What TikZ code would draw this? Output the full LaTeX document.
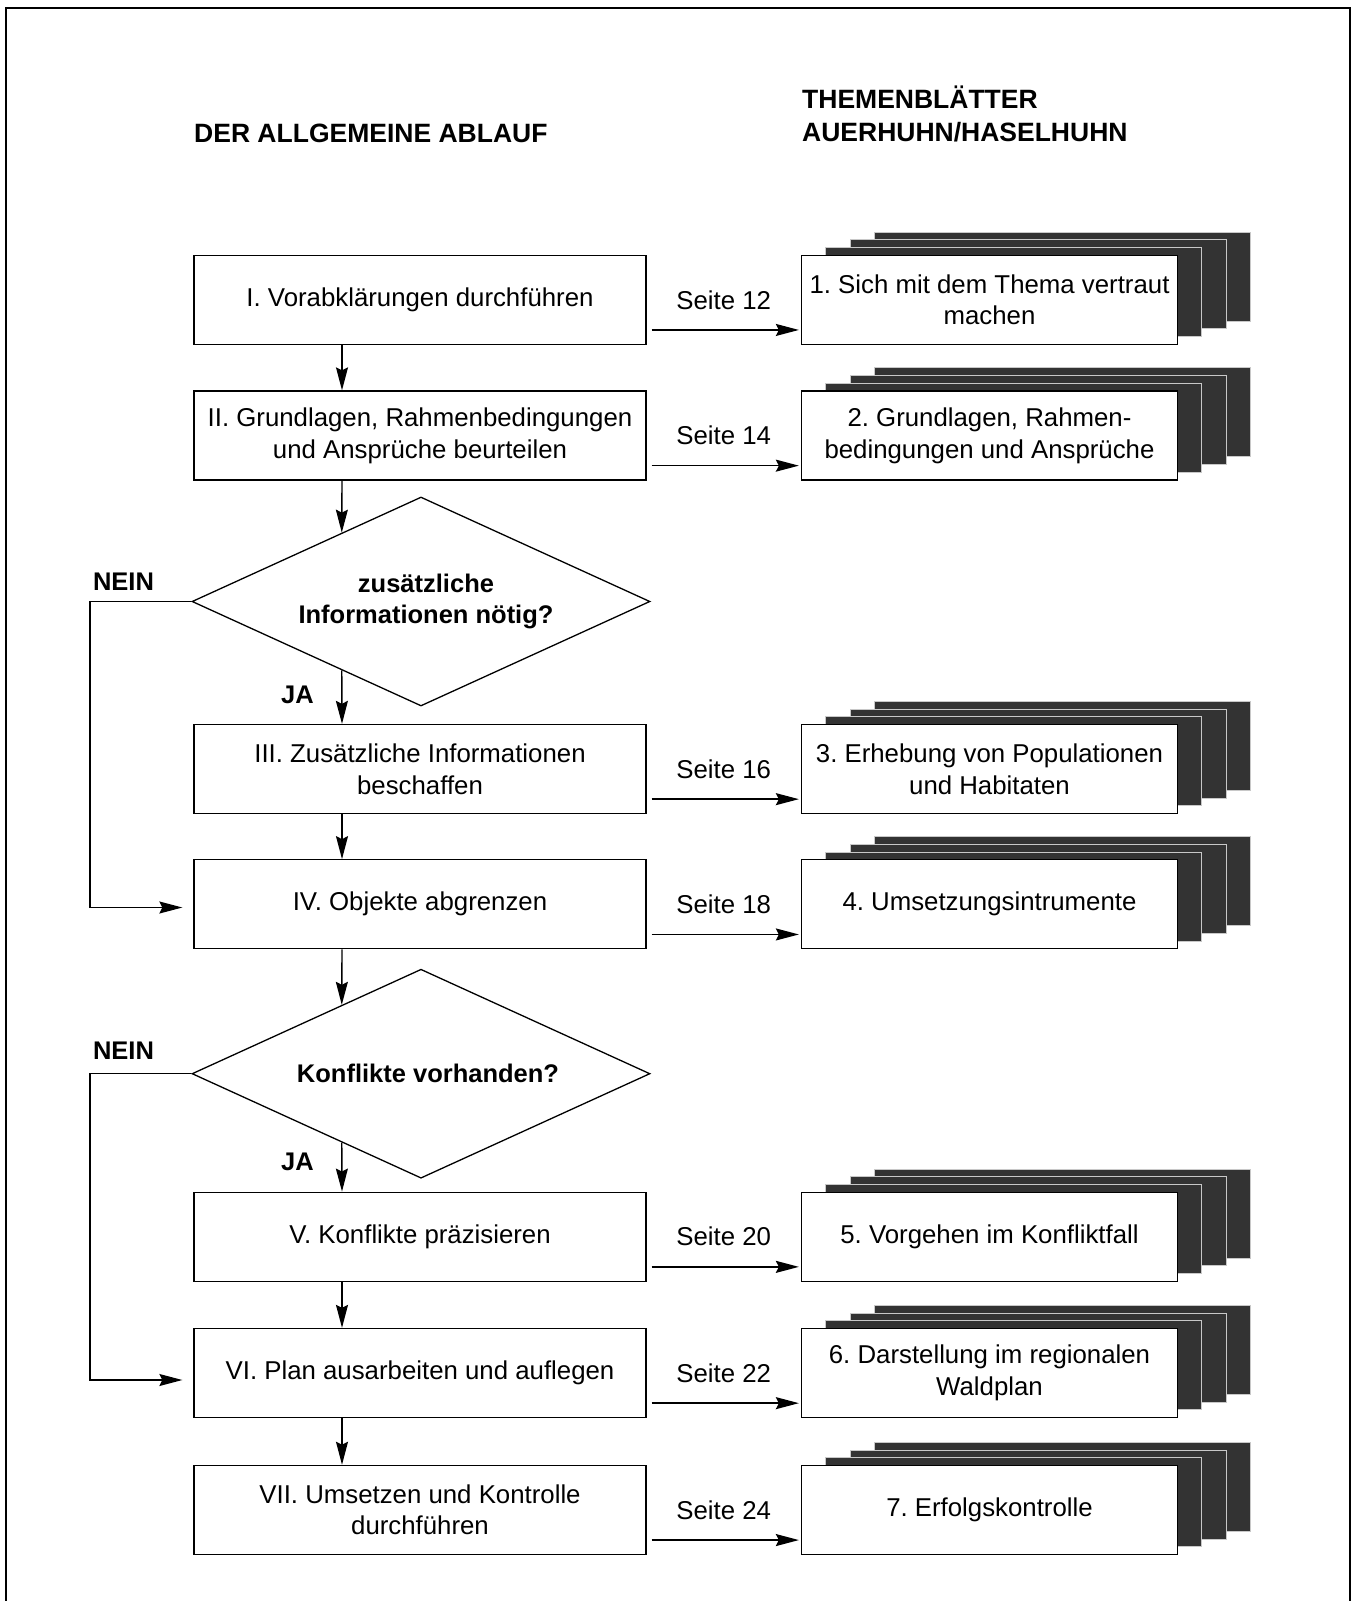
\documentclass[tikz,border=0pt]{standalone}
\usepackage{fontspec}
\setmainfont{Liberation Sans}
\usetikzlibrary{arrows.meta,shapes.geometric,calc}
\newcommand\myfs{\fontsize{25.8}{31.7}\selectfont\frenchspacing}
\newcommand\myfsb{\fontsize{25.5}{31.7}\selectfont\bfseries\frenchspacing}
\newcommand\myfsh{\fontsize{26.5}{32}\selectfont\bfseries\frenchspacing}
\definecolor{pagedark}{HTML}{333333}
\definecolor{pageedge}{HTML}{C8C8C8}
\tikzset{
  lbox/.style={draw=black, line width=1.3pt, fill=white, minimum width=452pt,
    minimum height=89pt, inner sep=0pt, align=center, font=\myfs},
  rbox/.style={draw=black, line width=1.3pt, fill=white, minimum width=376pt,
    minimum height=89pt, inner sep=0pt, align=center, font=\myfs},
  pagebox/.style={draw=pageedge, line width=1pt, fill=pagedark, minimum width=376pt,
    minimum height=89pt, inner sep=0pt},
  arr/.style={-{Stealth[length=23pt,width=12pt,inset=3pt]}, line width=1.4pt},
  dia/.style={diamond, draw=black, line width=1.3pt, minimum width=458pt,
    minimum height=209pt, inner sep=0pt, aspect=2.19},
  lbl/.style={font=\myfs, inner sep=0pt},
  blbl/.style={font=\myfsb, inner sep=0pt, align=center},
  hlbl/.style={font=\myfsh, inner sep=0pt},
}
\newcommand\mystack[3]{%
  \node[pagebox] (#1p3) at ($(989.5,#2)+(73,-23.1)$) {};
  \node[pagebox] (#1p2) at ($(989.5,#2)+(48.6,-15.4)$) {};
  \node[pagebox] (#1p1) at ($(989.5,#2)+(24.3,-7.7)$) {};
  \node[rbox] (#1) at (989.5,#2) {#3};
}
\begin{document}
\begin{tikzpicture}[x=1pt,y=-1pt]
\useasboundingbox (0,0) rectangle (1351,1601);
% frame
\draw[line width=1.5pt] (6,1601) -- (6,8) -- (1350,8) -- (1350,1601);

% headings
\node[hlbl, anchor=base west] (h1) at (194,142.5) {DER ALLGEMEINE ABLAUF};
\node[hlbl, anchor=base west] (h2) at (802,108.5) {THEMENBLÄTTER};
\node[hlbl, anchor=base west] (h3) at (802,141.5) {AUERHUHN/HASELHUHN};

% left column
\node[lbox] (b1) at (420,299.8) {I. Vorabklärungen durchführen};
\node[lbox] (b2) at (420,435.5) {II. Grundlagen, Rahmenbedingungen\\und Ansprüche beurteilen};
\node[dia] (d1) at (421,601.5) {};
\node[blbl] (d1t) at (426,601.5) {zusätzliche\\Informationen nötig?};
\node[lbox] (b3) at (420,769) {III. Zusätzliche Informationen\\beschaffen};
\node[lbox] (b4) at (420,904.3) {IV. Objekte abgrenzen};
\node[dia] (d2) at (421,1073.7) {};
\node[blbl] (d2t) at (428,1073.7) {Konflikte vorhanden?};
\node[lbox] (b5) at (420,1236.7) {V. Konflikte präzisieren};
\node[lbox] (b6) at (420,1373) {VI. Plan ausarbeiten und auflegen};
\node[lbox] (b7) at (420,1509.9) {VII. Umsetzen und Kontrolle\\durchführen};

% right column
\mystack{r1}{299.8}{1. Sich mit dem Thema vertraut\\machen}
\mystack{r2}{435.5}{2. Grundlagen, Rahmen-\\bedingungen und Ansprüche}
\mystack{r3}{769}{3. Erhebung von Populationen\\und Habitaten}
\mystack{r4}{904.3}{4. Umsetzungsintrumente}
\mystack{r5}{1236.7}{5. Vorgehen im Konfliktfall}
\mystack{r6}{1373}{6. Darstellung im regionalen\\Waldplan}
\mystack{r7}{1509.9}{7. Erfolgskontrolle}

% vertical axis of arrows
\coordinate (ax) at (342,0);

% vertical connectors
\draw[arr] (b1.south -| ax) -- (b2.north -| ax);
\draw[arr] (b2.south -| ax) -- ($(d1.north)!0.345!(d1.west)$);
\draw[arr] ($(d1.south)!0.345!(d1.west)$) -- (b3.north -| ax);
\draw[arr] (b3.south -| ax) -- (b4.north -| ax);
\draw[arr] (b4.south -| ax) -- ($(d2.north)!0.345!(d2.west)$);
\draw[arr] ($(d2.south)!0.345!(d2.west)$) -- (b5.north -| ax);
\draw[arr] (b5.south -| ax) -- (b6.north -| ax);
\draw[arr] (b6.south -| ax) -- (b7.north -| ax);

% NEIN / JA labels
\node[blbl] (n1l) at (123.5,582) {NEIN};
\node[blbl] (j1l) at (297.5,695) {JA};
\node[blbl] (n2l) at (123.5,1051) {NEIN};
\node[blbl] (j2l) at (297.5,1162) {JA};

% NEIN connectors
\coordinate (n1) at (90,907.5);
\coordinate (n2) at (90,1380);
\draw[arr, shorten >=11pt] (d1.west) -| (n1) -- (b4.west |- n1);
\draw[arr, shorten >=11pt] (d2.west) -| (n2) -- (b6.west |- n2);

% Seite connectors
\foreach \i/\p in {1/12,2/14,3/16,4/18,5/20,6/22,7/24}{
  \coordinate (s\i) at ([yshift=15pt]b\i.south east);
  \draw[arr, shorten <=5pt, shorten >=2pt] (s\i) -- (s\i -| r\i.west);
  \node[lbl] (l\i) at ($(b\i.east)!0.5!(r\i.west)$) {Seite \p};
}
\end{tikzpicture}
\end{document}
